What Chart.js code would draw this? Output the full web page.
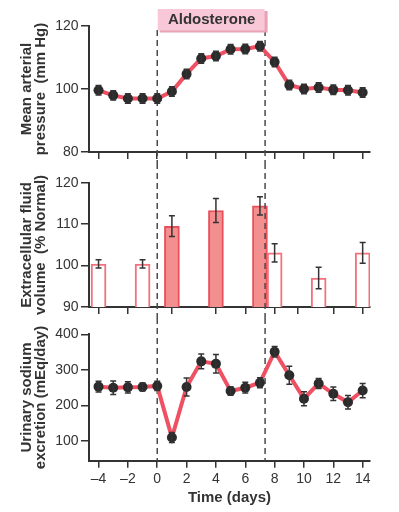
<!DOCTYPE html>
<html>
<head>
<meta charset="utf-8">
<script src="https://cdn.jsdelivr.net/npm/chart.js@4/dist/chart.umd.min.js"></script>
<style>
  body { margin: 0; background: #fff; }
  canvas { position: absolute; left: 0; }
</style>
</head>
<body>
<canvas id="pressure" width="399" height="163" style="top:0"></canvas>
<canvas id="fluid" width="399" height="155" style="top:163px"></canvas>
<canvas id="sodium" width="399" height="194" style="top:318px"></canvas>
<script>
// days of the experiment
var days = [-4, -3, -2, -1, 0, 1, 2, 3, 4, 5, 6, 7, 8, 9, 10, 11, 12, 13, 14];

// mean arterial pressure (mm Hg)
var pressure = [99.6, 98.0, 97.0, 97.0, 97.0, 99.2, 104.8, 109.7, 110.5, 112.6, 112.7, 113.6, 108.6, 101.3, 100.0, 100.5, 99.8, 99.6, 98.9];
var pressureErr = [1.5, 1.5, 1.5, 1.5, 1.5, 1.5, 1.5, 1.5, 1.5, 1.5, 1.5, 1.5, 1.5, 1.5, 1.5, 1.5, 1.5, 1.5, 1.5];

// extracellular fluid volume (% normal)
var fluidDays = [-4, -1, 1, 4, 7, 8, 11, 14];
var fluid = [100.4, 100.4, 109.5, 113.3, 114.4, 103.1, 97.0, 103.1];
var fluidErr = [1.0, 1.0, 2.5, 2.9, 2.2, 2.2, 2.6, 2.5];
var fluidOnAldo = [false, false, true, true, true, false, false, false];

// urinary sodium excretion (mEq/day)
var sodium = [253, 250, 251, 252, 255, 110, 252, 324, 317, 241, 250, 264, 351, 285, 219, 262, 233, 209, 242];
var sodiumErr = [15, 19, 16, 11, 13, 14, 25, 21, 26, 12, 15, 14, 15, 25, 20, 14, 19, 19, 20];

var timeTicks = [-4, -2, 0, 2, 4, 6, 8, 10, 12, 14];
var fluidTicks = [-4, -2, 1, 4, 6, 8, 9.6, 12, 14];
var aldosterone = [0, 7.35];

var ink = '#333333';
var red = '#ef5163';
var family = "'Liberation Sans', Arial, sans-serif";

function xScale(tickValues, height, showLabels) {
    return {
        type: 'linear',
        min: -4.65,
        max: 14.5,
        offset: false,
        afterBuildTicks: function (s) { s.ticks = tickValues.map(function (v) { return { value: v }; }); },
        afterFit: function (s) { s.height = height; },
        grid: { display: true, offset: false, drawOnChartArea: false, drawTicks: true, tickLength: 7, color: ink, lineWidth: 1.5 },
        border: { display: true, color: ink, width: 2 },
        ticks: {
            display: showLabels,
            autoSkip: false,
            maxRotation: 0,
            padding: 3,
            color: ink,
            font: { family: family, size: 14 },
            callback: function (v) { return v < 0 ? '\u2013' + (-v) : '' + v; }
        },
        title: {
            display: showLabels,
            text: 'Time (days)',
            color: ink,
            font: { family: family, size: 15, weight: 'bold' },
            padding: { top: 0, bottom: 5 }
        }
    };
}

function yScale(min, max, tickValues, title) {
    return {
        min: min,
        max: max,
        afterBuildTicks: function (s) { s.ticks = tickValues.map(function (v) { return { value: v }; }); },
        afterFit: function (s) { s.width = 89; },
        grid: { display: true, drawOnChartArea: false, drawTicks: true, tickLength: 8, color: ink, lineWidth: 1.5 },
        border: { display: true, color: ink, width: 2 },
        ticks: { padding: 2.5, color: ink, font: { family: family, size: 14 } },
        title: {
            display: true,
            text: title,
            color: ink,
            font: { family: family, size: 15, weight: 'bold', lineHeight: '14px' },
            padding: { top: 20, bottom: 0 }
        }
    };
}

var errorBars = {
    id: 'errorBars',
    afterDatasetsDraw: function (chart, args, opts) {
        if (!opts.values) return;
        var ctx = chart.ctx;
        var meta = chart.getDatasetMeta(0);
        var y = chart.scales.y;
        var vals = chart.data.datasets[0].data;
        ctx.save();
        ctx.strokeStyle = ink;
        ctx.lineWidth = 1.5;
        meta.data.forEach(function (el, i) {
            var hi = y.getPixelForValue(vals[i].y + opts.values[i]);
            var lo = y.getPixelForValue(vals[i].y - opts.values[i]);
            ctx.beginPath();
            ctx.moveTo(el.x, hi); ctx.lineTo(el.x, lo);
            ctx.moveTo(el.x - 3, hi); ctx.lineTo(el.x + 3, hi);
            ctx.moveTo(el.x - 3, lo); ctx.lineTo(el.x + 3, lo);
            ctx.stroke();
        });
        ctx.restore();
    }
};

// dashed lines for the aldosterone period, plus the label box on the top panel
function drawAldo(chart, opts) {
    var ctx = chart.ctx;
    var x = chart.scales.x;
    var x0 = x.getPixelForValue(aldosterone[0]);
    var x1 = x.getPixelForValue(aldosterone[1]);
    var bottom = opts.toAxis ? chart.chartArea.bottom : chart.height;
    ctx.save();
    ctx.strokeStyle = '#4a4a4a';
    ctx.lineWidth = 1.5;
    ctx.setLineDash([6, 4]);
    [x0, x1].forEach(function (px) {
        ctx.beginPath();
        ctx.moveTo(px, opts.top || 0);
        ctx.lineTo(px, bottom);
        ctx.stroke();
    });
    ctx.setLineDash([]);
    if (opts.box) {
        ctx.fillStyle = '#e8a2b3';
        ctx.fillRect(x0 + 2.5, 11, x1 - x0, 21.5);
        ctx.fillStyle = '#f8c8d9';
        ctx.fillRect(x0 + 0.5, 9, x1 - x0 - 1, 21.5);
        ctx.fillStyle = ink;
        ctx.font = 'bold 15px ' + family;
        ctx.textAlign = 'center';
        ctx.textBaseline = 'middle';
        ctx.fillText('Aldosterone', (x0 + x1) / 2 + 0.5, 20);
    }
    ctx.restore();
}

var aldoLines = {
    id: 'aldoLines',
    beforeDatasetsDraw: function (chart, args, opts) { if (!opts.front) drawAldo(chart, opts); },
    afterDatasetsDraw: function (chart, args, opts) { if (opts.front) drawAldo(chart, opts); }
};

function points(xs, ys) {
    return xs.map(function (d, i) { return { x: d, y: ys[i] }; });
}

function lineDataset(values) {
    return {
        data: points(days, values),
        borderColor: red,
        borderWidth: 4,
        tension: 0,
        pointRadius: 5,
        pointBorderWidth: 0,
        pointBackgroundColor: '#2b2b2b'
    };
}

var common = {
    responsive: false,
    animation: false,
    events: []
};

new Chart(document.getElementById('pressure'), {
    type: 'line',
    data: { datasets: [lineDataset(pressure)] },
    options: Object.assign({}, common, {
        layout: { padding: { top: 26, right: 29, left: 0, bottom: 0 } },
        scales: {
            x: xScale(timeTicks, 10, false),
            y: yScale(80, 120, [80, 100, 120], ['Mean arterial', 'pressure  (mm Hg)'])
        },
        plugins: {
            legend: { display: false },
            tooltip: { enabled: false },
            errorBars: { values: pressureErr },
            aldoLines: { top: 30, box: true, front: false }
        }
    }),
    plugins: [errorBars, aldoLines]
});

new Chart(document.getElementById('fluid'), {
    type: 'bar',
    data: {
        datasets: [{
            data: points(fluidDays, fluid),
            barThickness: 15,
            borderWidth: 2,
            borderSkipped: 'start',
            backgroundColor: fluidOnAldo.map(function (on) { return on ? '#f48f8f' : '#ffffff'; }),
            borderColor: fluidOnAldo.map(function (on) { return on ? '#e9505c' : '#f2717d'; })
        }]
    },
    options: Object.assign({}, common, {
        layout: { padding: { top: 19.7, right: 29, left: 0, bottom: 0 } },
        scales: {
            x: xScale(fluidTicks, 10, false),
            y: yScale(90, 120, [90, 100, 110, 120], ['Extracellular fluid', 'volume  (% Normal)'])
        },
        plugins: {
            legend: { display: false },
            tooltip: { enabled: false },
            errorBars: { values: fluidErr },
            aldoLines: { top: 0, front: true }
        }
    }),
    plugins: [errorBars, aldoLines]
});

new Chart(document.getElementById('sodium'), {
    type: 'line',
    data: { datasets: [lineDataset(sodium)] },
    options: Object.assign({}, common, {
        layout: { padding: { top: 16.3, right: 29, left: 0, bottom: 0 } },
        scales: {
            x: xScale(timeTicks, 51.3, true),
            y: yScale(45, 400, [100, 200, 300, 400], ['Urinary sodium', 'excretion (mEq/day)'])
        },
        plugins: {
            legend: { display: false },
            tooltip: { enabled: false },
            errorBars: { values: sodiumErr },
            aldoLines: { top: 0, toAxis: true, front: false }
        }
    }),
    plugins: [errorBars, aldoLines]
});
</script>
</body>
</html>
